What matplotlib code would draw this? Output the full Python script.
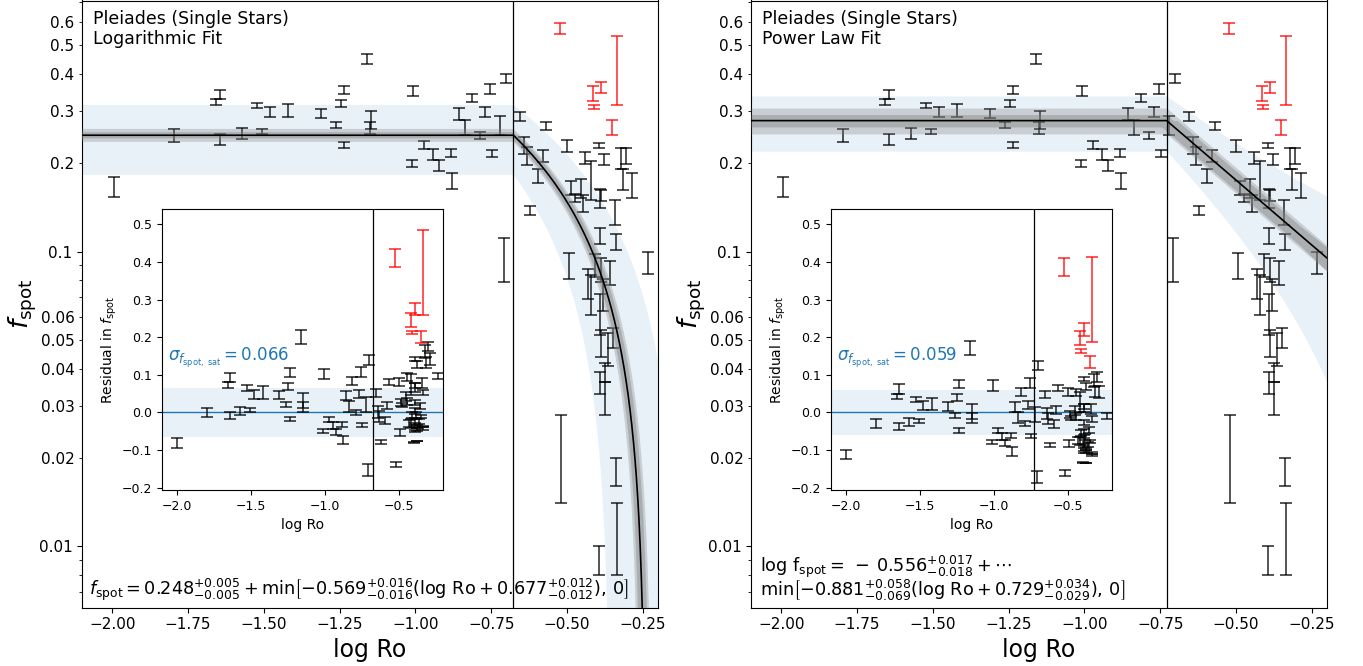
import numpy as np
import matplotlib.pyplot as plt
from matplotlib.ticker import FixedLocator, LogLocator, FuncFormatter

# Pleiades single stars: log Rossby number, spot filling factor, 1-sigma error
log_ro = [-1.996, -1.795, -1.644, -1.657, -1.644, -1.572, -1.505, -1.523, -1.480, -1.421,
          -1.161, -1.311, -1.262, -1.235, -1.247, -1.235, -1.146, -1.150, -1.007, -1.013,
          -0.972, -0.942, -0.922, -0.884, -0.878, -0.856, -0.838, -0.813, -0.788, -0.770,
          -0.755, -0.722, -0.700, -0.749,
          -0.654, -0.568, -0.499, -0.393, -0.378, -0.304, -0.321, -0.317, -0.286, -0.643,
          -0.633, -0.579, -0.596, -0.441, -0.486, -0.453, -0.623, -0.708, -0.494, -0.233,
          -0.342, -0.392, -0.337, -0.447, -0.475, -0.392, -0.409, -0.389, -0.359, -0.431,
          -0.420, -0.382, -0.392, -0.348, -0.387, -0.365, -0.375, -0.521, -0.339, -0.335,
          -0.396, -0.375, -0.392, -0.420, -0.376, -0.387]
f_spot = [0.166, 0.248, 0.341, 0.321, 0.240, 0.252, 0.255, 0.313, 0.297, 0.301,
          0.449, 0.294, 0.269, 0.354, 0.318, 0.230, 0.280, 0.263, 0.350, 0.199,
          0.230, 0.213, 0.196, 0.216, 0.174, 0.293, 0.264, 0.332, 0.248, 0.297,
          0.356, 0.269, 0.387, 0.215,
          0.287, 0.266, 0.228, 0.229, 0.206, 0.211, 0.207, 0.176, 0.168, 0.230,
          0.212, 0.211, 0.181, 0.208, 0.165, 0.164, 0.138, 0.095, 0.090, 0.092,
          0.136, 0.113, 0.108, 0.146, 0.152, 0.152, 0.090, 0.087, 0.085, 0.078,
          0.072, 0.072, 0.062, 0.051, 0.049, 0.047, 0.039, 0.021, 0.018, 0.011,
          0.009, 0.032, 0.036, 0.176, 0.001, 0.155]
f_err = [0.013, 0.012, 0.013, 0.007, 0.010, 0.011, 0.005, 0.007, 0.012, 0.016,
         0.018, 0.011, 0.007, 0.011, 0.009, 0.006, 0.020, 0.013, 0.014, 0.006,
         0.007, 0.009, 0.008, 0.007, 0.011, 0.013, 0.015, 0.010, 0.007, 0.011,
         0.013, 0.020, 0.013, 0.006,
         0.010, 0.008, 0.010, 0.005, 0.009, 0.013, 0.017, 0.014, 0.016, 0.015,
         0.015, 0.010, 0.010, 0.010, 0.009, 0.012, 0.005, 0.016, 0.009, 0.008,
         0.013, 0.007, 0.007, 0.010, 0.005, 0.011, 0.008, 0.008, 0.008, 0.009,
         0.011, 0.009, 0.010, 0.004, 0.005, 0.006, 0.003, 0.007, 0.002, 0.003,
         0.001, 0.004, 0.003, 0.027, 0.0008, 0.007]

# stars flagged as outliers
log_ro_out = [-0.523, -0.336, -0.389, -0.414, -0.411, -0.352]
f_out = [0.570, 0.426, 0.360, 0.344, 0.309, 0.264]
f_out_err = [0.024, 0.113, 0.016, 0.019, 0.005, 0.016]

# fit parameters: (value, +err, -err)
log_sat = (0.248, 0.005, 0.005)
log_slope = (-0.569, 0.016, 0.016)
log_break = (0.677, 0.012, 0.012)
log_sigma = 0.066

pow_sat = (-0.556, 0.017, 0.018)
pow_slope = (-0.881, 0.058, 0.069)
pow_break = (0.729, 0.034, 0.029)
pow_sigma = 0.059


def log_model(x, a, b, c):
    return a + np.minimum(b * (x + c), 0)


def pow_model(x, a, b, c):
    return 10 ** (a + np.minimum(b * (x + c), 0))


def envelope(model, x, pars, k, which):
    # shift one parameter at a time by k sigma and keep the spread
    best = [p[0] for p in pars]
    curves = [model(x, *best)]
    for i in which:
        for s in (-1, 1):
            vals = list(best)
            vals[i] = pars[i][0] + k * (pars[i][1] if s > 0 else -pars[i][2])
            curves.append(model(x, *vals))
    curves = np.clip(np.array(curves), 1e-5, None)
    return curves.min(axis=0), curves.max(axis=0)


def spot_fmt(v, pos):
    lead = int(round(v / 10 ** np.floor(np.log10(v) + 1e-9)))
    if lead <= 6:
        return '%g' % v
    return ''


x = np.linspace(-2.1, -0.2, 2000)
lr = np.array(log_ro)
fs = np.array(f_spot)
fe = np.array(f_err)
lro = np.array(log_ro_out)
fo = np.array(f_out)
foe = np.array(f_out_err)

fig = plt.figure(figsize=(13.63, 6.66), dpi=100)

panels = [
    (82, log_model, (log_sat, log_slope, log_break), log_sigma, 'Logarithmic Fit'),
    (751, pow_model, (pow_sat, pow_slope, pow_break), pow_sigma, 'Power Law Fit'),
]

bar_kw = dict(fmt='none', elinewidth=1.1, capsize=4.5, capthick=1.1, alpha=0.85, zorder=2)

for left_px, model, pars, sigma, title in panels:
    ax = fig.add_axes([left_px / 1363, 1 - 607.7 / 666, 576 / 1363, 607.2 / 666])
    best = [p[0] for p in pars]
    fit = model(x, *best)

    # scatter band around the fit
    lo = np.clip(fit - sigma, 1e-5, None)
    hi = np.clip(fit + sigma, 1e-5, None)
    ax.fill_between(x, lo, hi, color='C0', alpha=0.1, lw=0, zorder=0)

    ax.errorbar(lr, fs, yerr=fe, ecolor='k', **bar_kw)
    ax.errorbar(lro, fo, yerr=foe, ecolor='r', **bar_kw)

    elo, ehi = envelope(model, x, pars, 2.5, [0])
    ax.fill_between(x, elo, ehi, color='grey', alpha=0.3, lw=0, zorder=3)
    elo, ehi = envelope(model, x, pars, 1.2, [0, 1, 2])
    ax.fill_between(x, elo, ehi, color='grey', alpha=0.4, lw=0, zorder=3)
    fit_plot = np.where(fit > 0, fit, np.nan)
    ax.plot(x, fit_plot, color='k', lw=1.2, zorder=4)
    ax.axvline(-best[2], color='k', lw=0.9, zorder=4)

    ax.set_xlim(-2.1, -0.2)
    ax.set_yscale('log')
    ax.set_ylim(0.0062, 0.71)
    ax.set_xticks(np.arange(-2.0, -0.2, 0.25))
    ax.yaxis.set_major_locator(FixedLocator([0.01, 0.1]))
    ax.yaxis.set_major_formatter(FuncFormatter(lambda v, p: '%g' % v))
    ax.yaxis.set_minor_locator(LogLocator(base=10, subs=np.arange(2, 10)))
    ax.yaxis.set_minor_formatter(FuncFormatter(spot_fmt))
    ax.tick_params(axis='both', which='both', labelsize=11)
    ax.set_xlabel('log Ro', fontsize=17)
    ax.set_ylabel(r'$f_{\rm spot}$', fontsize=19)
    ax.yaxis.set_label_coords(-0.075, 0.5)

    ax.text(0.019, 0.985, 'Pleiades (Single Stars)\n' + title, transform=ax.transAxes,
            ha='left', va='top', fontsize=12.5, linespacing=1.15)

    # residuals inset
    ins = ax.inset_axes([0.139, 0.194, 0.488, 0.462])
    ins.set_zorder(6)
    res = fs - model(lr, *best)
    res_out = fo - model(lro, *best)
    ins.axhspan(-sigma, sigma, color='C0', alpha=0.1, lw=0, zorder=0)
    ins.axhline(0, color='C0', lw=1.0, zorder=1)
    ins.errorbar(lr, res, yerr=fe, ecolor='k', **bar_kw)
    ins.errorbar(lro, res_out, yerr=foe, ecolor='r', **bar_kw)
    ins.axvline(-best[2], color='k', lw=0.9, zorder=3)
    ins.set_xlim(-2.1, -0.2)
    ins.set_ylim(-0.206, 0.54)
    ins.set_xticks([-2.0, -1.5, -1.0, -0.5])
    ins.set_yticks(np.arange(-0.2, 0.51, 0.1))
    ins.tick_params(labelsize=9)
    ins.set_xlabel('log Ro', fontsize=10)
    ins.set_ylabel(r'Residual in $f_{\rm spot}$', fontsize=10, labelpad=2)
    ins.text(0.02, 0.47, r'$\sigma_{f_{\rm spot,\ sat}} = %.3f$' % sigma, color='C0',
             transform=ins.transAxes, fontsize=12, ha='left', va='center')

    a, b, c = pars
    if model is log_model:
        eq = (r'$f_{\rm spot} = %.3f^{+%.3f}_{-%.3f} + \min\left[%.3f^{+%.3f}_{-%.3f}'
              r'(\log\,{\rm Ro} + %.3f^{+%.3f}_{-%.3f}),\,0\right]$'
              % (a[0], a[1], a[2], b[0], b[1], b[2], c[0], c[1], c[2]))
        ax.text(0.012, 0.03, eq, transform=ax.transAxes, fontsize=12.7,
                ha='left', va='center', zorder=5)
    else:
        eq1 = (r'$\mathrm{log\ f_{spot}} = \,-\:%.3f^{+%.3f}_{-%.3f} + \cdots$'
               % (-a[0], a[1], a[2]))
        eq2 = (r'$\min\left[%.3f^{+%.3f}_{-%.3f}(\log\,{\rm Ro} + %.3f^{+%.3f}_{-%.3f}),\,0\right]$'
               % (b[0], b[1], b[2], c[0], c[1], c[2]))
        ax.text(0.016, 0.068, eq1, transform=ax.transAxes, fontsize=12.7,
                ha='left', va='center', zorder=5)
        ax.text(0.016, 0.028, eq2, transform=ax.transAxes, fontsize=12.7,
                ha='left', va='center', zorder=5)

fig.savefig('out.png', dpi=100)
